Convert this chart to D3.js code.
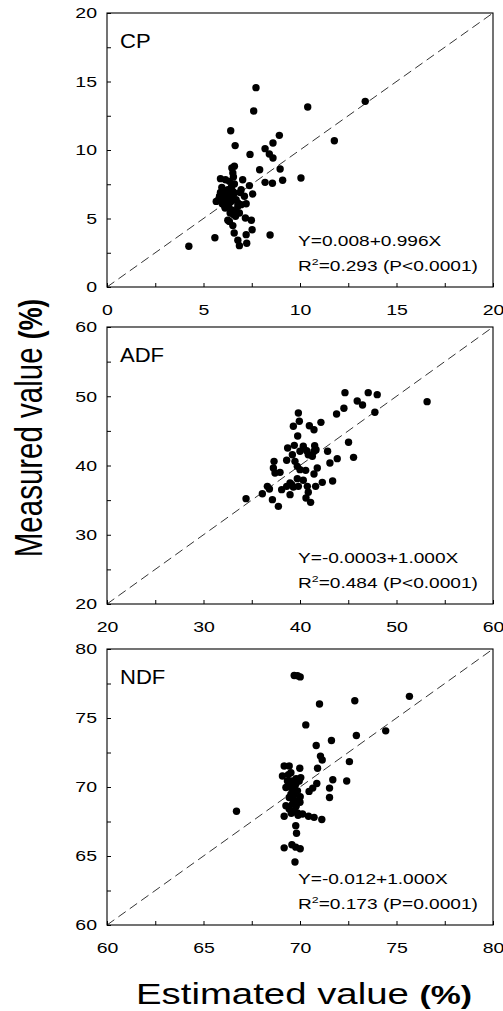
<!DOCTYPE html>
<meta charset="utf-8">
<style>
body { margin: 0; background: #fff; }
svg text { font-family: "Liberation Sans", Arial, Helvetica, sans-serif; fill: #000; }
</style>
<body>
<script src="https://d3js.org/d3.v7.min.js"></script>
<script>
// estimated (x) and measured (y) values
var cpEst = [4.24,5.59,7.72,7.60,10.40,13.38,11.78,6.41,6.64,7.41,8.93,8.19,8.60,8.41,8.60,7.91,8.97,8.19,8.57,9.10,
  10.05,8.45,7.52,7.48,7.17,7.21,7.24,6.86,6.78,6.59,6.52,6.26,7.55,7.38,7.03,7.12,7.21,6.95,
  5.88,6.14,5.95,5.88,5.78,5.97,6.12,6.22,6.47,6.60,6.52,6.55,6.34,6.60,6.52,6.48,6.69,6.78,6.38,6.66,
  6.86,6.78,6.09,6.26,6.31,6.17,5.83,6.00,5.66,6.43,6.60,6.95,6.34,6.20,6.40,6.10,6.50,6.70,6.30,6.45,6.55,6.90];
var cpMeas = [2.97,3.60,14.55,12.85,13.14,13.55,10.68,11.41,10.32,9.68,11.07,10.10,10.51,9.71,9.42,8.56,8.61,7.64,7.57,7.79,
  7.96,3.80,4.18,4.87,5.04,3.82,3.19,3.02,3.41,3.94,4.48,4.87,6.79,7.40,7.83,6.62,6.08,6.01,
  7.91,7.83,7.27,6.91,6.37,6.08,5.77,6.37,8.69,8.81,8.32,8.03,7.71,7.52,6.98,6.62,6.37,6.13,5.40,5.16,
  5.40,5.89,6.86,7.10,5.89,6.62,6.62,6.37,6.25,6.25,6.86,7.10,4.79,6.60,6.50,5.90,5.60,5.50,6.90,7.30,5.30,6.90];

var adfEst = [34.41,53.17,44.66,47.07,48.00,45.93,46.48,44.55,47.76,43.79,39.83,39.93,39.31,40.97,41.45,42.17,39.76,39.41,40.34,41.52,
  40.69,38.72,39.21,41.28,41.45,42.86,45.03,45.55,43.86,43.10,37.31,38.62,39.48,39.72,40.00,40.59,41.79,37.24,37.41,37.93,
  41.45,39.72,40.34,38.97,39.31,39.83,38.10,36.62,36.10,37.14,37.76,38.97,40.76,40.86,40.62,41.10,41.62,42.31,43.38,38.62,
  39.14,36.83,40.00,41.66,40.86];
var adfMeas = [35.21,49.22,50.52,50.52,50.23,49.31,48.74,48.26,47.68,47.44,47.58,46.38,45.66,45.75,45.17,46.23,44.26,42.91,42.77,42.86,
  42.14,42.53,41.56,41.32,42.05,42.05,43.35,41.18,40.99,40.36,40.60,40.75,40.60,39.88,39.40,39.30,39.64,39.64,38.92,39.01,
  38.77,38.10,37.86,37.47,36.90,36.99,36.51,36.99,35.93,35.07,34.10,35.79,36.99,36.13,35.31,34.68,36.99,37.57,37.76,36.99,
  37.23,36.61,42.05,42.29,41.56];

var ndfEst = [66.71,69.70,69.87,70.01,71.01,72.84,75.67,70.30,74.44,72.92,71.63,70.84,71.06,71.15,72.56,70.91,69.99,71.70,72.42,70.87,
  70.66,70.47,71.53,71.53,70.04,69.96,70.01,71.13,70.73,70.44,70.13,69.87,69.78,69.82,69.58,69.78,70.01,69.18,69.74,69.18,
  69.09,69.18,69.44,69.53,69.35,69.53,69.70,69.44,69.61,69.27,69.70,69.44,69.78,69.78,69.61,69.27,69.53,69.70,69.87,
  69.50,69.65,69.80,69.55,69.90,69.40,69.80,70.00,69.70];
var ndfMeas = [68.24,78.08,78.06,77.98,76.01,76.25,76.57,74.50,74.07,73.73,73.37,73.01,72.24,71.96,71.84,71.36,71.36,70.52,70.44,70.25,
  69.92,69.68,69.92,69.24,70.68,70.44,69.29,67.64,67.80,67.88,68.04,68.12,67.20,66.65,65.81,65.64,65.52,65.59,64.56,67.88,
  70.80,71.52,71.52,71.04,70.44,69.96,69.48,69.24,68.76,68.64,68.28,68.40,69.00,70.20,70.44,69.96,69.48,69.96,69.72,
  70.20,69.10,68.60,68.10,67.95,70.90,70.60,68.90,69.80];

var cpTicks = [0, 5, 10, 15, 20],
    adfTicks = [20, 30, 40, 50, 60],
    ndfTicks = [60, 65, 70, 75, 80];

var panelNames = ["CP", "ADF", "NDF"];
var fitLines = ["Y=0.008+0.996X", "Y=-0.0003+1.000X", "Y=-0.012+1.000X"];
var r2Values = ["0.293", "0.484", "0.173"];
var pValues = ["(P<0.0001)", "(P<0.0001)", "(P=0.0001)"];

var width = 503,
    height = 1011,
    left = 107,
    right = 493,
    k = 1.3; // the scanned figure is wider than tall, so text gets stretched

var panels = [
  {est: cpEst, meas: cpMeas, ticks: cpTicks, top: 13, bottom: 287},
  {est: adfEst, meas: adfMeas, ticks: adfTicks, top: 327, bottom: 604},
  {est: ndfEst, meas: ndfMeas, ticks: ndfTicks, top: 649, bottom: 925}
];

var svg = d3.select("body").append("svg")
    .attr("width", width)
    .attr("height", height);

function wideText(g, x, y, size, sx) {
  return g.append("text")
      .attr("transform", "translate(" + x + "," + y + ") scale(" + (sx || k) + ",1)")
      .style("font-size", size + "px");
}

panels.forEach(function(p, i) {
  var dom = [p.ticks[0], p.ticks[p.ticks.length - 1]],
      step = p.ticks[1] - p.ticks[0];

  var x = d3.scaleLinear().domain(dom).range([left, right]);
  var y = d3.scaleLinear().domain(dom).range([p.bottom, p.top]);

  var g = svg.append("g");
  var minor = d3.range(dom[0], dom[1] + 0.001, step / 2);

  // inward ticks
  var bx = g.append("g")
      .attr("transform", "translate(0," + p.bottom + ")")
      .call(d3.axisBottom(x).tickValues(minor).tickSize(-4).tickFormat(""));
  var ly = g.append("g")
      .attr("transform", "translate(" + left + ",0)")
      .call(d3.axisLeft(y).tickValues(minor).tickSize(-4).tickFormat(""));
  bx.select(".domain").remove();
  ly.select(".domain").remove();

  // tick labels
  var bl = g.append("g")
      .attr("transform", "translate(0," + p.bottom + ")")
      .call(d3.axisBottom(x).tickValues(p.ticks).tickSize(0).tickPadding(17));
  var yl = g.append("g")
      .attr("transform", "translate(" + left + ",0)")
      .call(d3.axisLeft(y).tickValues(p.ticks).tickSize(0).tickPadding(10));
  bl.select(".domain").remove();
  yl.select(".domain").remove();
  bl.selectAll("text")
      .style("font-size", "15px").attr("font-family", null)
      .attr("transform", "scale(" + k + ",1)");
  yl.selectAll("text")
      .style("font-size", "15px").attr("font-family", null)
      .attr("x", -10 / k)
      .attr("transform", "scale(" + k + ",1)");

  // frame
  g.append("rect")
      .attr("x", left)
      .attr("y", p.top)
      .attr("width", right - left)
      .attr("height", p.bottom - p.top)
      .attr("fill", "none")
      .attr("stroke", "#000")
      .attr("stroke-width", 1.1);

  // 1:1 line
  g.append("line")
      .attr("x1", x(dom[0])).attr("y1", y(dom[0]))
      .attr("x2", x(dom[1])).attr("y2", y(dom[1]))
      .attr("stroke", "#000")
      .attr("stroke-width", 0.8)
      .attr("stroke-dasharray", "9,5");

  g.selectAll("circle")
      .data(p.est)
    .enter().append("circle")
      .attr("cx", function(d) { return x(d); })
      .attr("cy", function(d, j) { return y(p.meas[j]); })
      .attr("r", 3.7)
      .attr("fill", "#000");

  wideText(g, left + 13, p.top + 35, 21, 1.05).text(panelNames[i]);

  wideText(g, left + 191, p.bottom - 41, 14.7).text(fitLines[i]);
  var t2 = wideText(g, left + 191, p.bottom - 16, 14.7);
  t2.append("tspan").text("R");
  t2.append("tspan").attr("dy", -6).style("font-size", "9.5px").text("2");
  t2.append("tspan").attr("dy", 6).text("=" + r2Values[i] + " " + pValues[i]);
});

// axis titles
var xt = wideText(svg, 304, 1004, 29.5).attr("text-anchor", "middle");
xt.append("tspan").text("Estimated value ");
xt.append("tspan").style("font-weight", "bold").style("font-size", "26px").text("(%)");

var yt = svg.append("text")
    .attr("transform", "translate(42,428) scale(" + k + ",1) rotate(-90)")
    .attr("text-anchor", "middle")
    .style("font-size", "29.5px");
yt.append("tspan").text("Measured value ");
yt.append("tspan").style("font-weight", "bold").style("font-size", "26px").text("(%)");
</script>
</body>
